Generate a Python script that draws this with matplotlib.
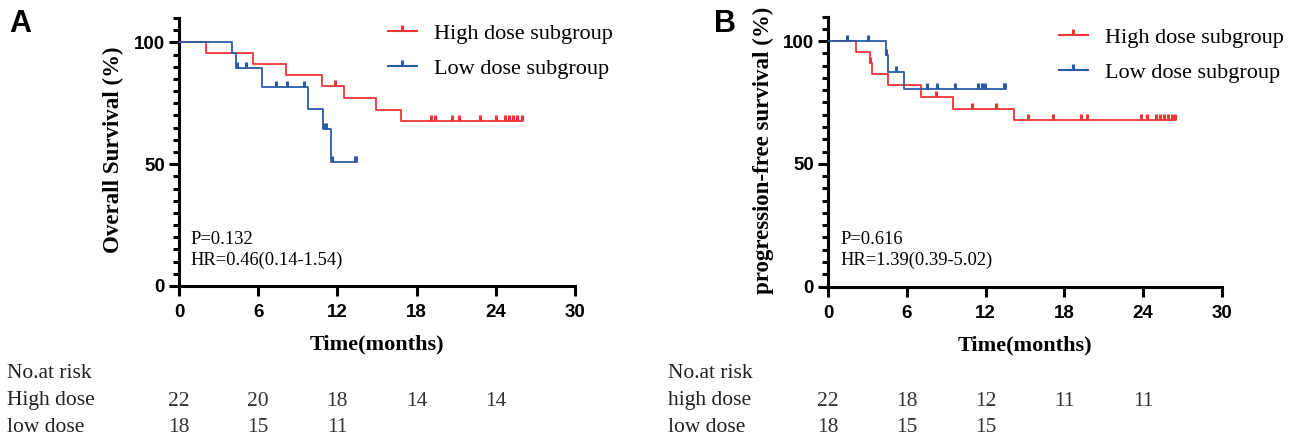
import matplotlib
matplotlib.use('Agg')
import matplotlib.pyplot as plt
from matplotlib.lines import Line2D
from matplotlib.path import Path
from matplotlib.ticker import MultipleLocator

# ---- data ----
# panel A: overall survival
os_high_t = [0, 2.05, 5.6, 8.1, 10.8, 12.5, 14.9, 16.8, 26.0]
os_high_s = [100, 95.6, 91.1, 86.5, 82.0, 77.1, 72.3, 67.9, 67.9]
os_high_cens = [11.8, 19.1, 19.4, 20.7, 21.2, 22.8, 24.0, 24.7, 25.0, 25.3, 25.6, 26.0]
os_low_t = [0, 4.05, 4.35, 6.3, 9.8, 10.9, 11.5, 13.4]
os_low_s = [100, 95.5, 89.4, 81.7, 72.7, 64.5, 51.0, 51.0]
os_low_cens = [4.4, 5.1, 7.35, 8.15, 9.5, 11.0, 11.15, 11.6, 13.3, 13.4]

# panel B: progression-free survival
pfs_high_t = [0, 2.13, 3.2, 3.35, 4.6, 7.1, 9.5, 14.2, 26.4]
pfs_high_s = [100, 95.5, 90.9, 86.6, 81.9, 77.3, 72.5, 67.9, 67.9]
pfs_high_cens = [3.2, 8.2, 11.0, 12.8, 15.2, 17.1, 19.3, 19.7, 23.8, 24.3,
                 25.0, 25.3, 25.6, 25.9, 26.2, 26.4]
pfs_low_t = [0, 4.4, 4.6, 5.8, 13.5]
pfs_low_s = [100, 94.4, 87.3, 80.3, 80.3]
pfs_low_cens = [1.47, 3.07, 4.45, 5.2, 7.5, 8.3, 9.7, 11.4, 11.7, 11.95, 13.4, 13.5]

risk_times = [0, 6, 12, 18, 24]
risk_A_high = [22, 20, 18, 14, 14]
risk_A_low = [18, 15, 11]
risk_B_high = [22, 18, 12, 11, 11]
risk_B_low = [18, 15, 15]

RED = '#ef3535'
BLUE = '#2a5aa8'
W, H = 1292, 445

fig = plt.figure(figsize=(W / 100, H / 100), dpi=100)

def fx(p):
    return p / W

def fy(p):
    return 1 - p / H

# censor mark: short vertical stroke sitting on top of the line
tick = Path([(0, 0), (0, 1)], [Path.MOVETO, Path.LINETO])
serif = 'Liberation Serif'
sans = 'Liberation Sans'


def km_panel(rect, curves, ylabel, ylab_x, stats, stats_x, legend_xy, letter, letter_x,
             risk_high, risk_low, high_name, name_x):
    ax = fig.add_axes(rect)
    for t, s, cens, col in curves:
        ax.step(t, s, where='post', color=col, lw=1.3, zorder=3)
        # survival level at each censored time
        cy = []
        for c in cens:
            lvl = s[0]
            for ti, si in zip(t, s):
                if ti <= c:
                    lvl = si
            cy.append(lvl)
        ax.plot(cens, cy, ls='none', marker=tick, ms=9, mew=2.2, color=col,
                zorder=4, clip_on=False)
    ax.set_xlim(0, 30)
    ax.set_ylim(0, 110)
    ax.set_xticks(range(0, 31, 6))
    ax.set_yticks([0, 50, 100])
    ax.yaxis.set_minor_locator(MultipleLocator(5))
    for sp in ['top', 'right']:
        ax.spines[sp].set_visible(False)
    for sp in ['left', 'bottom']:
        ax.spines[sp].set_linewidth(2.2)
    ax.tick_params(which='major', direction='out', length=7, width=2.2, pad=3)
    ax.tick_params(which='major', axis='x', pad=6)
    ax.tick_params(which='minor', axis='y', direction='out', length=4.5, width=2.2)
    for lab in ax.get_xticklabels() + ax.get_yticklabels():
        lab.set_fontfamily(sans)
        lab.set_fontweight('bold')
        lab.set_fontsize(13.5)
    ax.set_xlabel('Time(months)', fontfamily=serif, fontweight='bold', fontsize=16, labelpad=10)
    fig.text(fx(ylab_x), fy(150), ylabel, rotation=90, ha='center', va='center',
             fontfamily=serif, fontweight='bold', fontsize=16.5)
    fig.text(fx(stats_x), fy(239), stats[0], ha='left', va='center', fontfamily=serif, fontsize=13.3)
    fig.text(fx(stats_x), fy(260), stats[1], ha='left', va='center', fontfamily=serif, fontsize=13.3)
    fig.text(fx(letter_x), fy(24), letter, ha='left', va='center', fontfamily=sans,
             fontweight='bold', fontsize=22)

    handles = [Line2D([], [], color=RED, lw=1.5, marker=tick, ms=9, mew=2.2),
               Line2D([], [], color=BLUE, lw=1.5, marker=tick, ms=9, mew=2.2)]
    ax.legend(handles, ['High dose subgroup', 'Low dose subgroup'], loc='upper left',
              bbox_to_anchor=(fx(legend_xy[0]), fy(legend_xy[1])), bbox_transform=fig.transFigure,
              frameon=False, prop={'family': serif, 'size': 16}, numpoints=1,
              handlelength=1.3, handletextpad=0.75, labelspacing=0.65,
              borderpad=0, borderaxespad=0)

    # number at risk table, columns aligned to the x ticks
    trb = matplotlib.transforms.blended_transform_factory(ax.transData, fig.transFigure)
    for t, n in zip(risk_times, risk_high):
        fig.text(t, fy(401), str(n), transform=trb, ha='center', va='center',
                 fontfamily=serif, fontsize=15.5, color='#333333')
    for t, n in zip(risk_times, risk_low):
        fig.text(t, fy(428), str(n), transform=trb, ha='center', va='center',
                 fontfamily=serif, fontsize=15.5, color='#333333')
    fig.text(fx(name_x), fy(374), 'No.at risk', ha='left', va='center',
             fontfamily=serif, fontsize=15.5, color='#222222')
    fig.text(fx(name_x), fy(401), high_name, ha='left', va='center',
             fontfamily=serif, fontsize=15.5, color='#222222')
    fig.text(fx(name_x), fy(428), 'low dose', ha='left', va='center',
             fontfamily=serif, fontsize=15.5, color='#222222')
    return ax


km_panel([fx(179), fy(286), fx(575) - fx(179), fy(18) - fy(286)],
         [(os_high_t, os_high_s, os_high_cens, RED), (os_low_t, os_low_s, os_low_cens, BLUE)],
         'Overall Survival (%)', 113, ['P=0.132', 'HR=0.46(0.14-1.54)'], 190,
         (388, 23), 'A', 9, risk_A_high, risk_A_low, 'High dose', 7)

km_panel([fx(828), fy(286.5), fx(1222) - fx(828), fy(16.5) - fy(286.5)],
         [(pfs_high_t, pfs_high_s, pfs_high_cens, RED), (pfs_low_t, pfs_low_s, pfs_low_cens, BLUE)],
         'progression-free survival (%)', 763, ['P=0.616', 'HR=1.39(0.39-5.02)'], 840,
         (1059, 27), 'B', 714, risk_B_high, risk_B_low, 'high dose', 668)

fig.savefig('out.png', dpi=100)
